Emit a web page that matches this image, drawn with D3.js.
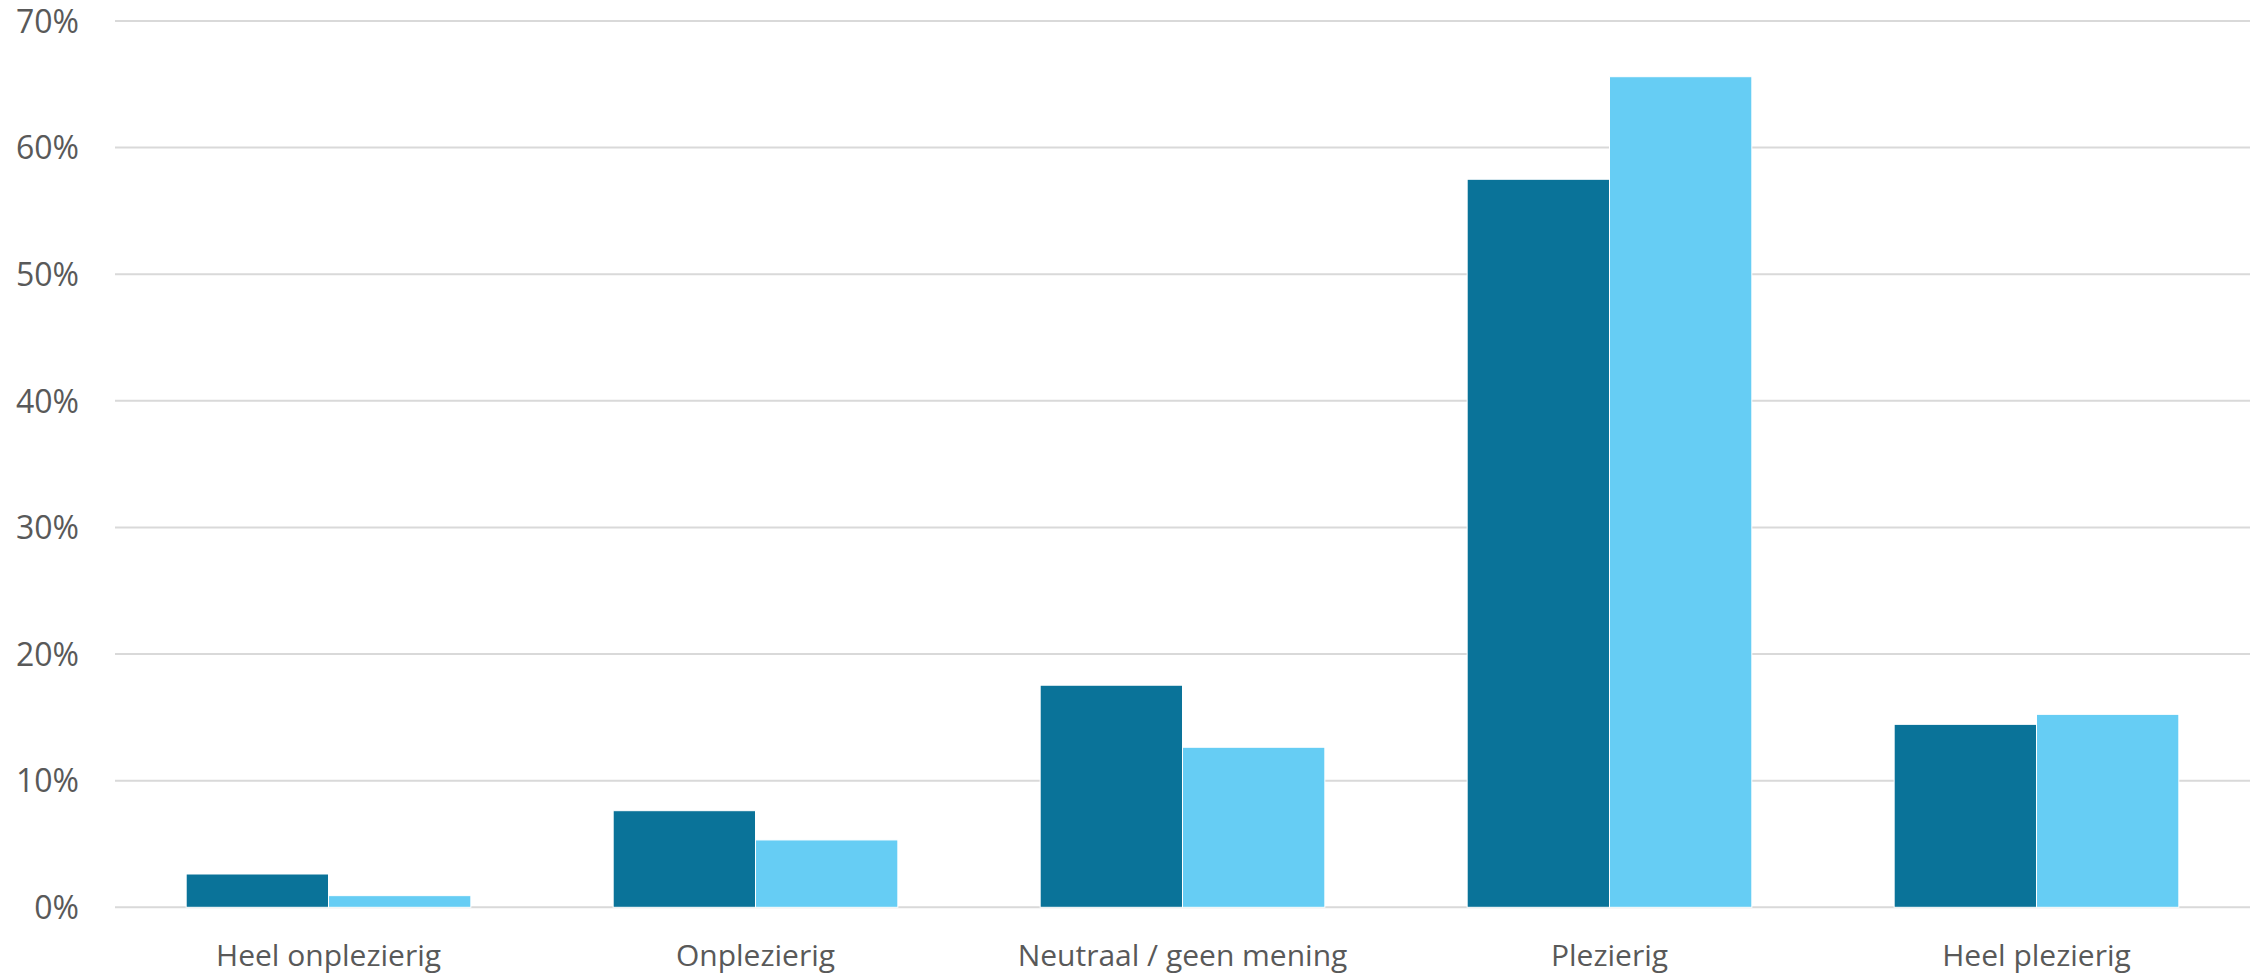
<!DOCTYPE html>
<html>
<head>
<meta charset="utf-8">
<script src="https://cdn.jsdelivr.net/npm/d3@7"></script>
<style>
  html, body { margin: 0; padding: 0; background: #fff; }
  svg { display: block; }
  text { font-family: "Open Sans", sans-serif; fill: #595959; }
</style>
</head>
<body>
<svg id="chart" width="2251" height="977"></svg>
<script>
const categories = ["Heel onplezierig", "Onplezierig", "Neutraal / geen mening", "Plezierig", "Heel plezierig"];
const seriesNames = ["Reeks 1", "Reeks 2"];
const series1 = [0.0263, 0.0763, 0.1754, 0.575, 0.1445];
const series2 = [0.0092, 0.0532, 0.1264, 0.656, 0.1524];
const yTicks = [0, 0.1, 0.2, 0.3, 0.4, 0.5, 0.6, 0.7];
const colors = ["#0a7399", "#66cdf4"];

const svg = d3.select("#chart");
const margin = { left: 115, right: 1, top: 21, bottom: 70 };
const W = 2251, H = 977;
const plotBottom = 907.3;

const x0 = d3.scaleBand().domain(categories).range([margin.left, W - margin.right]).paddingInner(0.3333).paddingOuter(0.16667);
const x1 = d3.scaleBand().domain(seriesNames).range([0, x0.bandwidth()]);
const y = d3.scaleLinear().domain([0, 0.7]).range([plotBottom, margin.top]);

// gridlines
svg.append("g").selectAll("line").data(yTicks).join("line")
  .attr("x1", margin.left).attr("x2", W - margin.right)
  .attr("y1", d => y(d)).attr("y2", d => y(d))
  .attr("stroke", "#d9d9d9").attr("stroke-width", 2);

// y labels
const yAxis = d3.axisLeft(y).tickValues(yTicks).tickFormat(d3.format(".0%")).tickSize(0).tickPadding(0);
const gy = svg.append("g").attr("transform", "translate(79,0)").call(yAxis);
gy.select(".domain").remove();
gy.selectAll("text").attr("font-size", 32).attr("font-family", "'Open Sans', sans-serif").attr("fill", "#595959").attr("dy", "0.35em");

// bars
const data = categories.map((c, i) => ({ cat: c, vals: [series1[i], series2[i]] }));
const groups = svg.append("g").selectAll("g").data(data).join("g")
  .attr("transform", d => `translate(${x0(d.cat)},0)`);
groups.selectAll("rect").data(d => d.vals.map((v, j) => ({ v, s: seriesNames[j], j })))
  .join("rect")
  .attr("x", d => x1(d.s))
  .attr("width", x1.bandwidth())
  .attr("y", d => y(d.v))
  .attr("height", d => plotBottom - y(d.v))
  .attr("fill", d => colors[d.j])
  .attr("stroke", "#ffffff").attr("stroke-width", 1);

// x labels
const xAxis = d3.axisBottom(x0).tickSize(0).tickPadding(0);
const gx = svg.append("g").attr("transform", `translate(0,${plotBottom})`).call(xAxis);
gx.select(".domain").remove();
gx.selectAll("text").attr("font-size", 30).attr("font-family", "'Open Sans', sans-serif").attr("fill", "#595959")
  .attr("dy", null).attr("y", 59);
</script>
</body>
</html>
